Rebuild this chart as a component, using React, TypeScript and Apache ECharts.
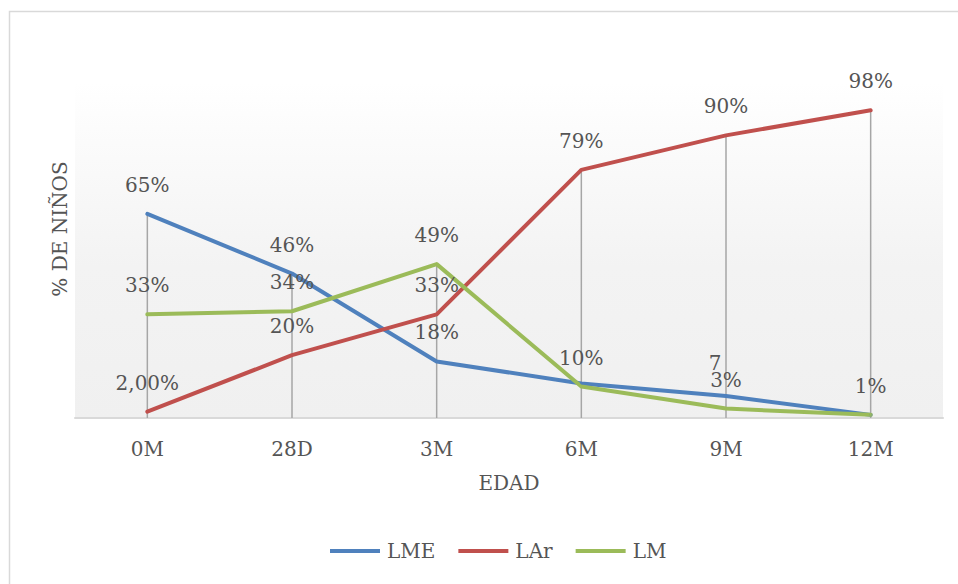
import React, { useEffect, useRef } from "react";
import * as echarts from "echarts";

// Feeding type share by age
const categories = ["0M", "28D", "3M", "6M", "9M", "12M"];
const lmeValues = [65, 46, 18, 11, 7, 1];
const larValues = [2, 20, 33, 79, 90, 98];
const lmValues = [33, 34, 49, 10, 3, 1];

// Printed labels per point
const lmeLabels = ["65%", "46%", "18%", "", "7", ""];
const larLabels = ["2,00%", "20%", "33%", "79%", "90%", "98%"];
const lmLabels = ["33%", "34%", "49%", "10%", "3%", "1%"];

const FONT = "'DejaVu Serif', 'Liberation Serif', serif";
const TEXT = "#555555";

export default function App() {
  const ref = useRef<HTMLDivElement>(null);

  useEffect(() => {
    if (!ref.current) return;
    const chart = echarts.init(ref.current, undefined, { renderer: "svg" });

    const maxPerCategory = categories.map((_, i) => [
      i,
      Math.max(lmeValues[i], larValues[i], lmValues[i]),
    ]);

    const lineSeries = (
      name: string,
      color: string,
      values: number[],
      labels: string[],
      shifts: Record<number, number[]> = {}
    ) => ({
      name,
      type: "line",
      z: 3,
      symbol: "circle",
      symbolSize: 2,
      showAllSymbol: true,
      itemStyle: { color },
      lineStyle: { color, width: 4, join: "round", cap: "round" },
      data: values.map((v, i) => ({
        value: v,
        label: shifts[i] ? { offset: shifts[i] } : undefined,
      })),
      label: {
        show: true,
        position: "top",
        distance: 18,
        color: TEXT,
        fontFamily: FONT,
        fontSize: 20,
        formatter: (p: any) => labels[p.dataIndex],
      },
      emphasis: { disabled: true },
    });

    chart.setOption({
      animation: false,
      backgroundColor: "#ffffff",
      graphic: [
        {
          type: "rect",
          shape: { x: 9.5, y: 11.5, width: 1200, height: 800 },
          style: { fill: "none", stroke: "#d9d9d9", lineWidth: 1.5 },
          silent: true,
          z: -10,
        },
        {
          type: "text",
          x: 60,
          y: 229,
          rotation: Math.PI / 2,
          style: {
            text: "% DE NIÑOS",
            fill: TEXT,
            font: `20px ${FONT}`,
            align: "center",
            verticalAlign: "middle",
          },
        },
      ],
      grid: {
        left: 75,
        right: 15,
        top: 82,
        bottom: 166,
        show: true,
        borderWidth: 0,
        backgroundColor: new echarts.graphic.LinearGradient(0, 0, 0, 1, [
          { offset: 0, color: "#ffffff" },
          { offset: 0.55, color: "#f3f3f3" },
          { offset: 1, color: "#f0f0f0" },
        ]),
      },
      legend: {
        data: ["LME", "LAr", "LM"],
        left: 330,
        top: 541,
        padding: 0,
        icon: "rect",
        itemWidth: 50,
        itemHeight: 4,
        itemGap: 23,
        textStyle: { color: TEXT, fontFamily: FONT, fontSize: 20, padding: [0, 0, 0, 2] },
      },
      xAxis: {
        type: "category",
        data: categories,
        boundaryGap: true,
        name: "EDAD",
        nameLocation: "middle",
        nameGap: 55,
        nameTextStyle: { color: TEXT, fontFamily: FONT, fontSize: 20 },
        axisLine: { lineStyle: { color: "#d9d9d9", width: 2 } },
        axisTick: { show: false },
        axisLabel: { color: TEXT, fontFamily: FONT, fontSize: 20, margin: 21 },
        splitLine: { show: false },
      },
      yAxis: {
        type: "value",
        min: 0,
        max: 107,
        show: false,
        splitLine: { show: false },
      },
      series: [
        {
          name: "drop",
          type: "custom",
          z: 1,
          silent: true,
          data: maxPerCategory,
          renderItem: (_params: any, api: any) => {
            const top = api.coord([api.value(0), api.value(1)]);
            const base = api.coord([api.value(0), 0]);
            return {
              type: "line",
              shape: { x1: top[0], y1: top[1], x2: base[0], y2: base[1] },
              style: { stroke: "#a6a6a6", lineWidth: 1.5 },
            };
          },
        },
        lineSeries("LME", "#4f81bd", lmeValues, lmeLabels, { 4: [-11, -4] }),
        lineSeries("LAr", "#c0504d", larValues, larLabels),
        lineSeries("LM", "#9bbb59", lmValues, lmLabels),
      ],
    });

    return () => chart.dispose();
  }, []);

  return (
    <div
      ref={ref}
      style={{ position: "fixed", left: 0, top: 0, width: 958, height: 584 }}
    />
  );
}
